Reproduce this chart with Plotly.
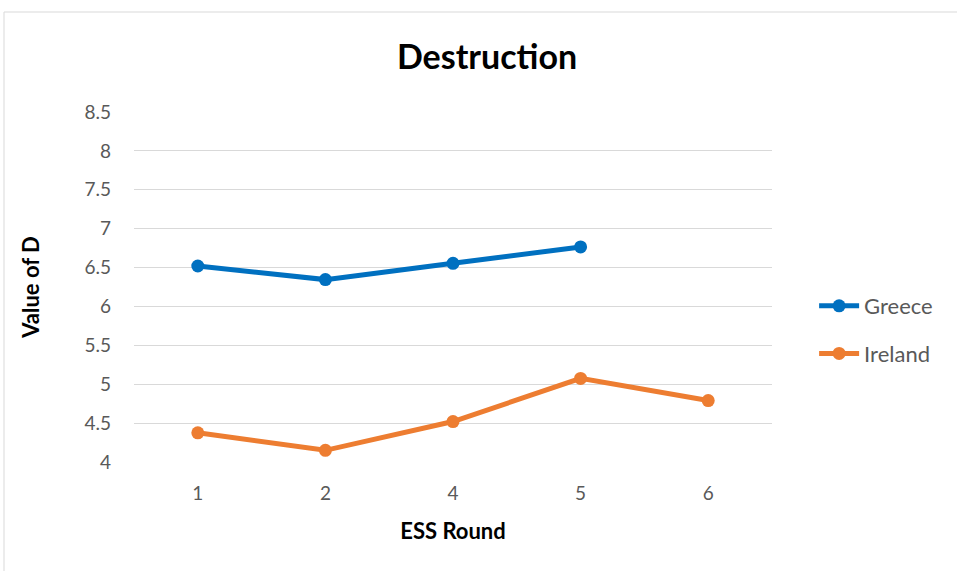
"""Destruction line chart (ESS rounds) recreated with Plotly."""
import plotly.graph_objects as go

rounds = ["1", "2", "4", "5", "6"]
greece = [6.52, 6.345, 6.555, 6.765, None]
ireland = [4.375, 4.15, 4.52, 5.075, 4.79]
y_ticks = [4, 4.5, 5, 5.5, 6, 6.5, 7, 7.5, 8, 8.5]

FONT = "Lato, 'Open Sans', sans-serif"

fig = go.Figure()

fig.add_trace(go.Scatter(
    x=rounds,
    y=greece,
    mode='lines+markers',
    name='Greece',
    legendgroup='g',
    line=dict(color='#0070C0', width=5),
    marker=dict(size=13, color='#0070C0'),
))

fig.add_trace(go.Scatter(
    x=rounds,
    y=ireland,
    mode='lines+markers',
    name='Ireland',
    legendgroup='i',
    line=dict(color='#ED7D31', width=5),
    marker=dict(size=13, color='#ED7D31'),
))

fig.update_layout(
    title=dict(
        text="<b>Destruction</b>",
        x=487 / 957,
        xanchor='center',
        y=1 - 57 / 571,
        yanchor='middle',
        font=dict(family=FONT, size=34, color='#000000'),
    ),
    width=957,
    height=571,
    paper_bgcolor='white',
    plot_bgcolor='white',
    font=dict(family=FONT, size=19, color='#595959'),
    margin=dict(l=134, r=185, t=112, b=109),
    showlegend=True,
    legend=dict(
        x=1.066,
        xanchor='left',
        y=0.377,
        yanchor='middle',
        font=dict(family=FONT, size=22, color='#595959'),
        itemwidth=40,
        tracegroupgap=16,
    ),
)

fig.update_xaxes(
    type='category',
    range=[-0.5, 4.5],
    showgrid=False,
    showline=False,
    zeroline=False,
    ticks='',
    ticklabelstandoff=18,
    tickfont=dict(size=19, color='#595959'),
    title=dict(text="<b>ESS Round</b>", font=dict(family=FONT, size=22, color='#000000'), standoff=20),
)

fig.update_yaxes(
    range=[4, 8.5],
    tickvals=y_ticks,
    ticktext=[f"{v:g}" for v in y_ticks],
    showgrid=True,
    gridcolor='#D9D9D9',
    gridwidth=1.3,
    zeroline=False,
    showline=False,
    ticks='',
    ticklabelstandoff=22,
    tickfont=dict(size=19, color='#595959'),
    title=dict(text="<b>Value of D</b>", font=dict(family=FONT, size=22, color='#000000'), standoff=38),
)

# light frame round the chart area, as in the spreadsheet export
fig.add_shape(
    type='rect', xref='paper', yref='paper',
    x0=-130 / 638, x1=(957 - 134 + 10) / 638,
    y0=-120 / 350, y1=1 + 100 / 350,
    line=dict(color='#D9D9D9', width=1),
    layer='below',
)

# drop the default page margin so the figure sits at the window's corner
fig.write_html(
    "out.html",
    config={'displayModeBar': False},
    post_script="document.body.style.margin='0';",
)
